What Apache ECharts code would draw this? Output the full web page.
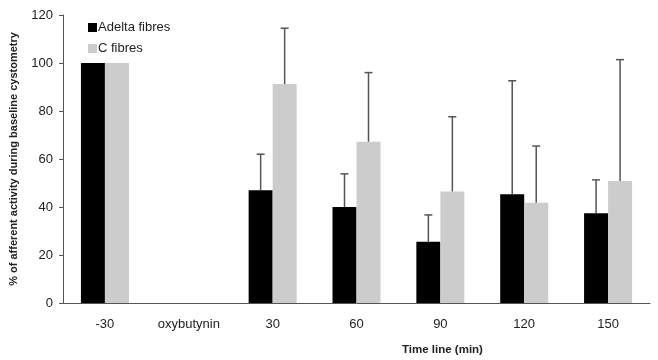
<!DOCTYPE html>
<html>
<head>
<meta charset="utf-8">
<script src="https://cdn.jsdelivr.net/npm/echarts@6/dist/echarts.min.js"></script>
<style>
  html, body { margin: 0; padding: 0; background: #fff; }
  #chart { width: 658px; height: 360px; }
</style>
</head>
<body>
<div id="chart"></div>
<script>
  const categories = ['-30', 'oxybutynin', '30', '60', '90', '120', '150']
  const adelta = [100, null, 47, 40, 25.5, 45.3, 37.4]
  const adeltaErr = [null, null, 62, 53.8, 36.7, 92.6, 51.3]
  const cFibres = [100, null, 91.2, 67.2, 46.5, 41.8, 50.8]
  const cFibresErr = [null, null, 114.5, 96, 77.6, 65.4, 101.4]

  const barW = 24
  const font = 'Liberation Sans, Arial, sans-serif'

  // error bar rows: [category index, bar value, upper value]
  function errRows(vals, errs) {
    const rows = []
    vals.forEach((v, i) => {
      if (v != null && errs[i] != null) rows.push([i, v, errs[i]])
    })
    return rows
  }

  function errSeries(name, rows, offset) {
    return {
      name: name + ' err',
      type: 'custom',
      data: rows,
      z: 5,
      renderItem(params, api) {
        const base = api.coord([api.value(0), api.value(1)])
        const top = api.coord([api.value(0), api.value(2)])
        const x = base[0] + offset
        const st = { stroke: '#555', lineWidth: 1.5 }
        return {
          type: 'group',
          children: [
            { type: 'line', shape: { x1: x, y1: base[1], x2: x, y2: top[1] }, style: st },
            { type: 'line', shape: { x1: x - 4, y1: top[1], x2: x + 4, y2: top[1] }, style: st }
          ]
        }
      }
    }
  }

  const myChart = echarts.init(document.getElementById('chart'))
  myChart.setOption({
    animation: false,
    textStyle: { fontFamily: font },
    grid: { left: 63, right: 8, top: 15, bottom: 57 },
    title: {
      text: 'Time line (min)',
      left: 397,
      top: 339,
      textStyle: { fontSize: 11.5, fontWeight: 'bold', color: '#222', fontFamily: font }
    },
    legend: {
      orient: 'vertical',
      left: 83,
      top: 16,
      icon: 'rect',
      itemWidth: 9,
      itemHeight: 9,
      itemGap: 8,
      data: ['Adelta fibres', 'C fibres'],
      textStyle: { fontSize: 13, color: '#222', padding: [0, 0, 0, -4] }
    },
    xAxis: {
      type: 'category',
      data: categories,
      axisLine: { lineStyle: { color: '#555' } },
      axisTick: { length: 4, lineStyle: { color: '#555' } },
      axisLabel: { fontSize: 13, color: '#222', margin: 15 }
    },
    yAxis: {
      type: 'value',
      min: 0,
      max: 120,
      interval: 20,
      name: '% of afferent activity during baseline cystometry',
      nameLocation: 'middle',
      nameGap: 44,
      nameTextStyle: { fontSize: 11, fontWeight: 'bold', color: '#222' },
      splitLine: { show: false },
      axisLine: { show: true, lineStyle: { color: '#555' } },
      axisTick: { show: true, length: 4, lineStyle: { color: '#555' } },
      axisLabel: { fontSize: 13, color: '#222', margin: 10 }
    },
    series: [
      {
        name: 'Adelta fibres',
        type: 'bar',
        data: adelta,
        barWidth: barW,
        barGap: '0%',
        itemStyle: { color: '#000' }
      },
      {
        name: 'C fibres',
        type: 'bar',
        data: cFibres,
        barWidth: barW,
        barGap: '0%',
        itemStyle: { color: '#cccccc' }
      },
      errSeries('Adelta fibres', errRows(adelta, adeltaErr), -barW / 2),
      errSeries('C fibres', errRows(cFibres, cFibresErr), barW / 2)
    ]
  })
</script>
</body>
</html>
